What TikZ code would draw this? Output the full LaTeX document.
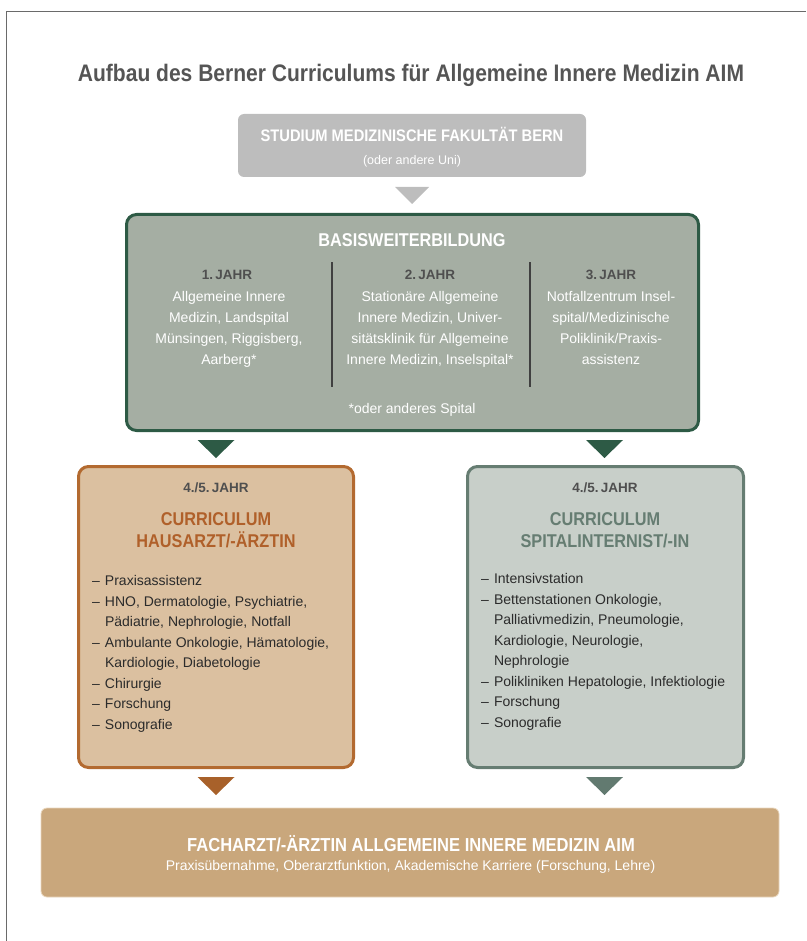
\documentclass[tikz,border=0pt]{standalone}
\usepackage{fontspec}
\setmainfont{Liberation Sans}
\newfontfamily\condf{Liberation Sans}[FakeStretch=0.88]
\usetikzlibrary{calc}
\definecolor{framegray}{HTML}{6A6A6A}
\definecolor{titlegray}{HTML}{555555}
\definecolor{studfill}{HTML}{BDBDBD}
\definecolor{basisfill}{HTML}{A5AEA3}
\definecolor{basisdraw}{HTML}{2D5A45}
\definecolor{yeargray}{HTML}{4F4F4F}
\definecolor{hausfill}{HTML}{DBC0A0}
\definecolor{hausdraw}{HTML}{B36A30}
\definecolor{hausT}{HTML}{B0602A}
\definecolor{spitfill}{HTML}{C8CFC9}
\definecolor{spitdraw}{HTML}{667D72}
\definecolor{trihaus}{HTML}{A8612A}
\definecolor{trispit}{HTML}{627A70}
\definecolor{endfill}{HTML}{C9A77C}
\definecolor{enddraw}{HTML}{E9D7BE}
\definecolor{listtext}{HTML}{2B2B2B}
\newcommand{\itm}{\makebox[13pt][l]{–}}
\newcommand{\ind}{\hspace*{13pt}}
\begin{document}
\begin{tikzpicture}[x=1pt,y=-1pt,
  every node/.style={inner sep=0pt, outer sep=0pt},
  box/.style={rectangle, draw, line width=3pt, rounded corners=10pt},
  head/.style={anchor=base, font=\condf\bfseries\fontsize{18.5}{21}\selectfont},
  yearlab/.style={anchor=base, text=yeargray, font=\bfseries\fontsize{13.5}{16}\selectfont},
  body/.style={anchor=base, font=\fontsize{14}{21}\selectfont},
  listtxt/.style={anchor=base west, align=left, text=listtext, font=\fontsize{14}{20.5}\selectfont},
  colline/.style={draw=black!75, line width=1.2pt}
]
\useasboundingbox (0,0) rectangle (806,941);
\draw[framegray, line width=1.3pt] (806,11.5) -- (6.5,11.5) -- (6.5,941);

% title
\node[anchor=base, text=titlegray, font=\condf\bfseries\fontsize{23.9}{28}\selectfont] (title) at (411,81.5) {Aufbau des Berner Curriculums für Allgemeine Innere Medizin AIM};

% studium
\node[rectangle, fill=studfill, rounded corners=6pt, minimum width=348pt, minimum height=63pt] (stud) at (412,145.5) {};
\node[anchor=base, text=white, font=\condf\bfseries\fontsize{16.7}{20}\selectfont] (studT) at (412,142) {STUDIUM MEDIZINISCHE FAKULTÄT BERN};
\node[anchor=base, text=white, font=\fontsize{12.5}{15}\selectfont] (studS) at (412,165) {(oder andere Uni)};

% basis
\node[box, draw=basisdraw, fill=basisfill, minimum width=572pt, minimum height=216pt] (basis) at (412.5,322.5) {};
\node[head, text=white] (basisT) at (412,247) {BASISWEITERBILDUNG};
\coordinate (d1a) at (332,262); \coordinate (d1b) at (332,387);
\coordinate (d2a) at (530,262); \coordinate (d2b) at (530,387);
\draw[colline] (d1a) -- (d1b);
\draw[colline] (d2a) -- (d2b);
\node[yearlab] (y1) at (227,279) {1.\,JAHR};
\node[yearlab] (y2) at (430,279) {2.\,JAHR};
\node[yearlab] (y3) at (611,279) {3.\,JAHR};
% multi-line nodes: base anchor = baseline of last line
\node[body, align=center, text=white] (c1) at (229,364) {Allgemeine Innere\\Medizin, Landspital\\Münsingen, Riggisberg,\\Aarberg*};
\node[body, align=center, text=white] (c2) at (430,364) {Stationäre Allgemeine\\Innere Medizin, Univer-\\sitätsklinik für Allgemeine\\Innere Medizin, Inselspital*};
\node[body, align=center, text=white] (c3) at (611,364) {Notfallzentrum Insel-\\spital/Medizinische\\Poliklinik/Praxis-\\assistenz};
\node[body, text=white] (foot) at (412,413) {*oder anderes Spital};

% haus
\node[box, draw=hausdraw, fill=hausfill, minimum width=275pt, minimum height=301pt] (haus) at (216,617) {};
\node[yearlab] (y4) at (216,492) {4./5.\,JAHR};
\node[head, text=hausT] (hausT1) at (216,525) {CURRICULUM};
\node[head, text=hausT] (hausT2) at (216,547) {HAUSARZT/-ÄRZTIN};
\node[listtxt] (hausL) at (92,729) {\itm Praxisassistenz\\\itm HNO, Dermatologie, Psychiatrie,\\\ind Pädiatrie, Nephrologie, Notfall\\\itm Ambulante Onkologie, Hämatologie,\\\ind Kardiologie, Diabetologie\\\itm Chirurgie\\\itm Forschung\\\itm Sonografie};

% spital
\node[box, draw=spitdraw, fill=spitfill, minimum width=276pt, minimum height=301pt] (spit) at (605.5,617) {};
\node[yearlab] (y5) at (605,492) {4./5.\,JAHR};
\node[head, text=spitdraw] (spitT1) at (605,525) {CURRICULUM};
\node[head, text=spitdraw] (spitT2) at (605,547) {SPITALINTERNIST/-IN};
\node[listtxt] (spitL) at (481,727) {\itm Intensivstation\\\itm Bettenstationen Onkologie,\\\ind Palliativmedizin, Pneumologie,\\\ind Kardiologie, Neurologie,\\\ind Nephrologie\\\itm Polikliniken Hepatologie, Infektiologie\\\itm Forschung\\\itm Sonografie};

% end
\node[rectangle, fill=endfill, draw=enddraw, line width=0.8pt, rounded corners=6pt, minimum width=738pt, minimum height=89pt] (endb) at (410,852.5) {};
\node[anchor=base, text=white, font=\condf\bfseries\fontsize{18.8}{22}\selectfont] (endT) at (411,851) {FACHARZT/-ÄRZTIN ALLGEMEINE INNERE MEDIZIN AIM};
\node[anchor=base, text=white, font=\fontsize{14}{17}\selectfont] (endS) at (410.5,870.5) {Praxisübernahme, Oberarztfunktion, Akademische Karriere (Forschung, Lehre)};

% arrows (triangles)
\fill[studfill] ($(stud.south)+(-17,10)$) -- ($(stud.south)+(17,10)$) -- ($(stud.south)+(0,27)$) -- cycle;
\fill[basisdraw] ($(haus.north |- basis.south)+(-18.5,9.5)$) -- ($(haus.north |- basis.south)+(18.5,9.5)$) -- ($(haus.north |- basis.south)+(0,27.5)$) -- cycle;
\fill[basisdraw] ($(spit.north |- basis.south)+(-19.5,9.5)$) -- ($(spit.north |- basis.south)+(17.5,9.5)$) -- ($(spit.north |- basis.south)+(-1,27.5)$) -- cycle;
\fill[trihaus] ($(haus.south)+(-18.5,9.5)$) -- ($(haus.south)+(18.5,9.5)$) -- ($(haus.south)+(0,27.5)$) -- cycle;
\fill[trispit] ($(spit.south)+(-19.5,9.5)$) -- ($(spit.south)+(17.5,9.5)$) -- ($(spit.south)+(-1,27.5)$) -- cycle;
\end{tikzpicture}
\end{document}
